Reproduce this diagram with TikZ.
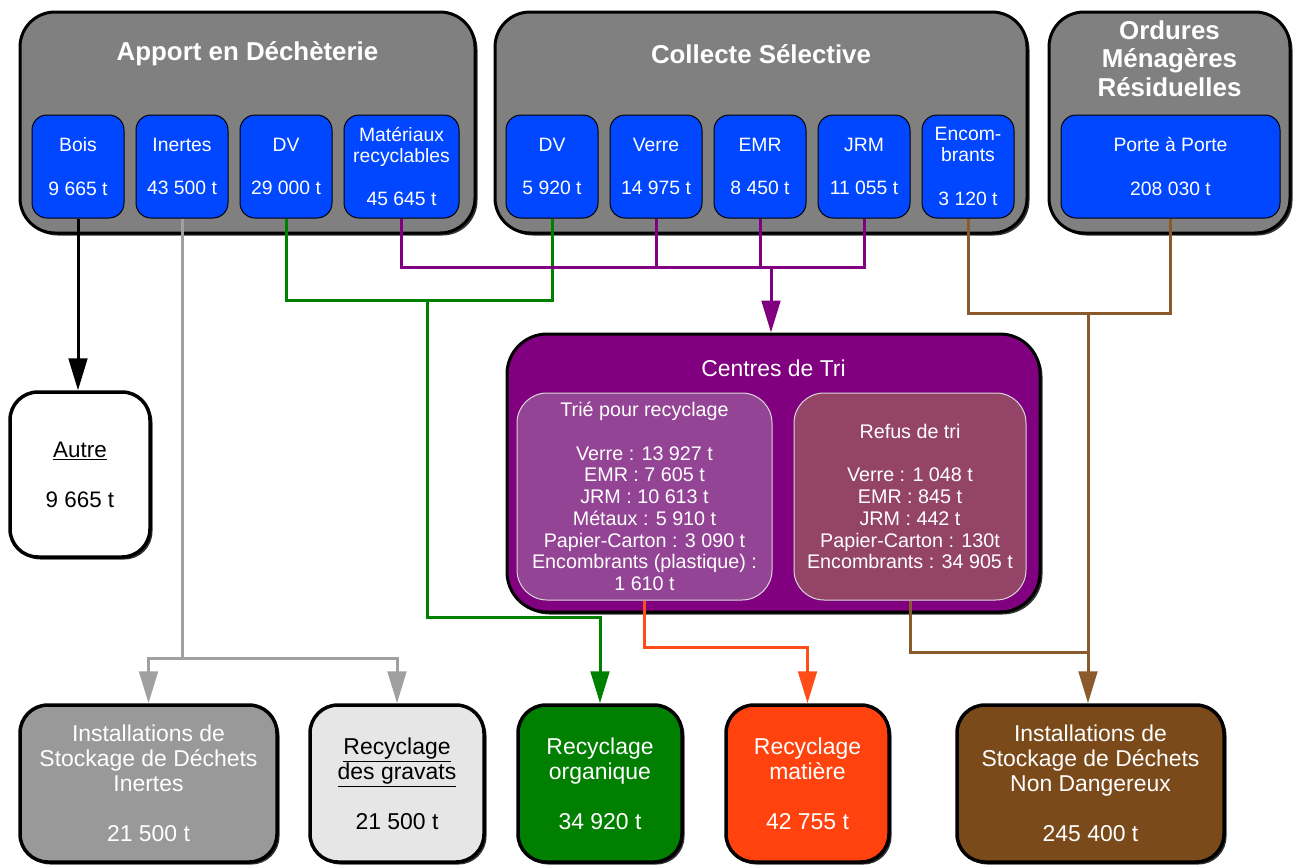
\documentclass[tikz,border=0pt]{standalone}
\usepackage{fontspec}
\setmainfont{Liberation Sans}
\usetikzlibrary{arrows.meta,shadows}
\newdimen\pxu \pxu=0.75pt
\newcommand\ulnx[1]{\underline{#1}}
\definecolor{boxgray}{HTML}{808080}
\definecolor{subblue}{HTML}{0047FF}
\definecolor{tripurple}{HTML}{800080}
\definecolor{triebox}{HTML}{944494}
\definecolor{refusbox}{HTML}{944466}
\definecolor{isdigray}{HTML}{999999}
\definecolor{gravgray}{HTML}{E6E6E6}
\definecolor{orggreen}{HTML}{007F00}
\definecolor{matorange}{HTML}{FF420E}
\definecolor{isdbrown}{HTML}{7B4A1A}
\definecolor{linegray}{HTML}{A0A0A0}
\definecolor{linegreen}{HTML}{008000}
\definecolor{linepurple}{HTML}{800080}
\definecolor{linebrown}{HTML}{8B5A2B}
\definecolor{lineorange}{HTML}{FF4D1A}
\begin{document}
\begin{tikzpicture}[x=0.75pt,y=-0.75pt,
  shad/.style={drop shadow={shadow xshift=2.5\pxu,shadow yshift=-2.5\pxu,opacity=0.8,fill=black}},
  group/.style={shad,draw=black,line width=3\pxu,fill=boxgray,rounded corners=35\pxu,inner sep=0pt},
  sub/.style={draw=black,line width=1\pxu,fill=subblue,rounded corners=15\pxu,inner sep=0pt,
    text=white,align=center,minimum width=92\pxu,minimum height=103\pxu,
    font=\fontsize{14.5}{15.75}\selectfont},
  heading/.style={text=white,align=center,font=\bfseries\fontsize{19.4}{21.4}\selectfont},
  outbox/.style={shad,draw=black,line width=3.5\pxu,rounded corners=28\pxu,inner sep=0pt,align=center,
    minimum height=157\pxu,font=\fontsize{17.2}{18.75}\selectfont},
  inner/.style={draw=white!85!black,line width=1\pxu,rounded corners=30\pxu,inner sep=0pt,align=center,
    text=white,minimum height=207\pxu,font=\fontsize{14.8}{16.3}\selectfont},
  conn/.style={line width=3\pxu},
  arr/.style={-{Triangle[length=24pt,width=14pt]}}
]
\useasboundingbox (0,0) rectangle (1293,865);

% group boxes
\node[group,minimum width=455\pxu,minimum height=221\pxu] (apport) at (247.5,122.5) {};
\node[group,minimum width=532\pxu,minimum height=221\pxu] (collecte) at (761,122.5) {};
\node[group,minimum width=241\pxu,minimum height=221\pxu] (ordures) at (1169.5,122.5) {};
\node[heading] (hA) at (247.5,54) {Apport en Déchèterie};
\node[heading] (hC) at (761,54) {Collecte Sélective};
\node[heading] (hO) at (1169.5,58.5) {Ordures\\Ménagères\\Résiduelles};

% sub boxes
\node[sub] (bois) at (78,166.5) {Bois\\[17pt]9 665 t};
\node[sub] (inertes) at (182,166.5) {Inertes\\[17pt]43 500 t};
\node[sub] (dva) at (286,166.5) {DV\\[17pt]29 000 t};
\node[sub,minimum width=115\pxu] (mat) at (401.5,166.5) {Matériaux\\recyclables\\[17pt]45 645 t};
\node[sub] (dvc) at (552,166.5) {DV\\[17pt]5 920 t};
\node[sub] (verre) at (656,166.5) {Verre\\[17pt]14 975 t};
\node[sub] (emr) at (760,166.5) {EMR\\[17pt]8 450 t};
\node[sub] (jrm) at (864,166.5) {JRM\\[17pt]11 055 t};
\node[sub] (enc) at (968,166.5) {Encom-\\brants\\[17pt]3 120 t};
\node[sub,minimum width=219\pxu] (porte) at (1170.5,166.5) {Porte à Porte\\[17pt]208 030 t};

% Autre
\node[outbox,fill=white,minimum width=140\pxu,minimum height=165\pxu,
  font=\fontsize{16.8}{18.75}\selectfont] (autre) at (80,474.5) {\ulnx{Autre}\\[18.75pt]9 665 t};

% Centres de tri
\node[group,fill=tripurple,rounded corners=40\pxu,minimum width=533\pxu,minimum height=278\pxu] (cdt) at (773.5,473) {};
\node[text=white,font=\fontsize{17.2}{19}\selectfont] (ct) at (773.5,368) {Centres de Tri};
\node[inner,fill=triebox,minimum width=255\pxu] (trie) at (644.5,496.5)
  {Trié pour recyclage\\[16.3pt]Verre : 13 927 t\\EMR : 7 605 t\\JRM : 10 613 t\\Métaux : 5 910 t\\Papier-Carton : 3 090 t\\Encombrants (plastique) :\\1 610 t};
\node[inner,fill=refusbox,minimum width=232\pxu] (refus) at (910,496.5)
  {Refus de tri\\[16.3pt]Verre : 1 048 t\\EMR : 845 t\\JRM : 442 t\\Papier-Carton : 130t\\Encombrants : 34 905 t};

% bottom boxes
\node[outbox,fill=isdigray,text=white,minimum width=257\pxu] (isdi) at (148.5,783.5)
  {Installations de\\Stockage de Déchets\\Inertes\\[18.75pt]21 500 t};
\node[outbox,fill=gravgray,text=black,minimum width=174\pxu] (grav) at (397,783.5)
  {\ulnx{Recyclage}\\\ulnx{des gravats}\\[18.75pt]21 500 t};
\node[outbox,fill=orggreen,text=white,minimum width=164\pxu] (org) at (600,783.5)
  {Recyclage\\organique\\[18.75pt]34 920 t};
\node[outbox,fill=matorange,text=white,minimum width=163\pxu] (matr) at (807.5,783.5)
  {Recyclage\\matière\\[18.75pt]42 755 t};
\node[outbox,fill=isdbrown,text=white,minimum width=267\pxu] (isdnd) at (1090.5,783.5)
  {Installations de\\Stockage de Déchets\\Non Dangereux\\[18.75pt]245 400 t};

% junction coordinates
\coordinate (gj) at (inertes.south |- 0,658);
\coordinate (gm) at (427,300);
\coordinate (gk) at (427,617);
\coordinate (pm) at (771,267);
\coordinate (bm) at (1088,313);
\coordinate (bj) at (1088,652);
\coordinate (om) at (trie.south |- 0,647);

% connectors
\draw[conn,black,arr] (bois.south) -- (bois.south |- autre.north);
\draw[conn,linegray] (inertes.south) -- (gj);
\draw[conn,linegray,arr] (gj) -| (isdi.north);
\draw[conn,linegray,arr] (gj) -| (grav.north);
\draw[conn,linegreen] (dva.south) |- (gm) -| (dvc.south);
\draw[conn,linegreen,arr] (gm) -- (gk) -| (org.north);
\draw[conn,linepurple] (mat.south) |- (pm) -| (jrm.south);
\draw[conn,linepurple] (verre.south) -- (verre.south |- pm);
\draw[conn,linepurple] (emr.south) -- (emr.south |- pm);
\draw[conn,linepurple,arr] (pm) -- (pm |- cdt.north);
\draw[conn,linebrown] (enc.south) |- (bm) -| (porte.south);
\draw[conn,linebrown,arr] (bm) -- (bm |- isdnd.north);
\draw[conn,linebrown] (refus.south) |- (bj);
\draw[conn,lineorange,arr] (trie.south) -- (om) -| (matr.north);
\end{tikzpicture}
\end{document}
